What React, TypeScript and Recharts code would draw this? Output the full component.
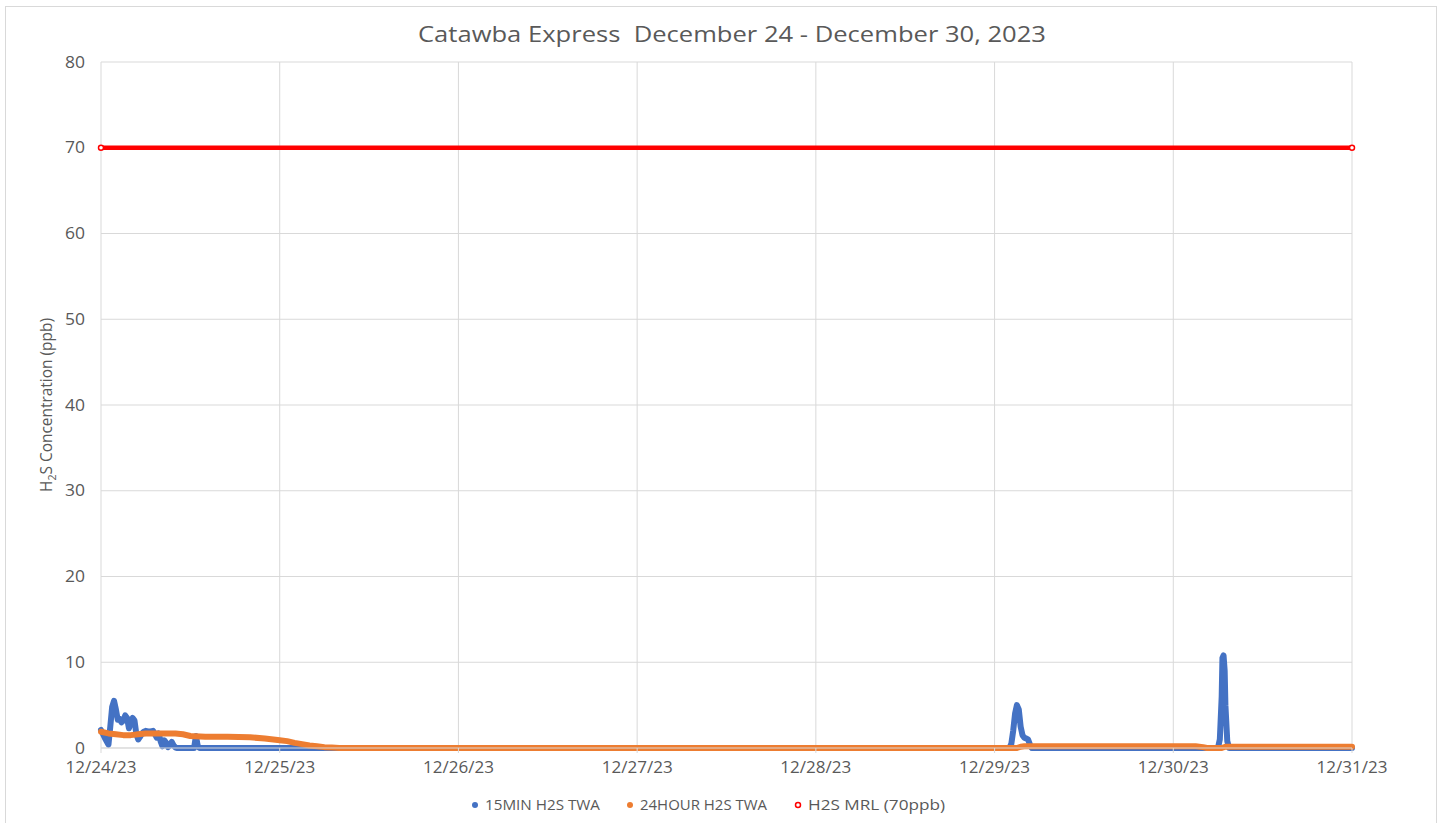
import React from 'react';
import { LineChart, Line, XAxis, YAxis, CartesianGrid } from 'recharts';

// ---- Data (x in hours since 12/24/23 00:00) ----
const dayTicks = [0, 24, 48, 72, 96, 120, 144, 168];
const dayLabels = ['12/24/23', '12/25/23', '12/26/23', '12/27/23', '12/28/23', '12/29/23', '12/30/23', '12/31/23'];
const yTicks = [0, 10, 20, 30, 40, 50, 60, 70, 80];

const min15Hours = [
  0, 0.5, 1.0, 1.25, 1.5, 1.75, 2.0, 2.25, 2.5, 2.75, 3.0, 3.25, 3.5, 3.75, 4.0, 4.25, 4.5, 4.75,
  5.0, 5.25, 5.5, 5.75, 6.0, 6.5, 7.0, 7.25, 7.5, 7.75, 8.0, 8.25, 8.5, 8.75, 9.0, 9.25, 9.5, 9.75,
  10.0, 10.25, 12.5, 12.75, 13.0, 13.25, 122.0, 122.25, 122.5, 122.75, 123.0, 123.25, 123.5, 123.75,
  124.0, 124.25, 124.5, 124.75, 125.0, 150.0, 150.25, 150.5, 150.6, 150.75, 150.9, 151.0, 151.25, 151.5, 168,
];
const min15Values = [
  2.1, 1.2, 0.4, 2.5, 4.8, 5.5, 4.5, 3.3, 3.4, 3.0, 3.2, 3.8, 3.5, 2.3, 3.0, 3.5, 3.2, 1.6,
  1.0, 1.3, 1.7, 1.9, 2.0, 1.9, 2.0, 1.6, 1.2, 1.7, 0.8, 0.2, 0.9, 0.6, 0.1, 0.3, 0.7, 0.3,
  0.05, 0, 0, 1.4, 0.2, 0, 0, 0.5, 2.0, 4.0, 5.0, 4.5, 2.5, 1.5,
  1.2, 1.1, 1.0, 0.4, 0, 0, 1.0, 6.0, 10.5, 10.8, 9.0, 5.0, 0.8, 0, 0,
];

const hour24Hours = [
  0, 1, 2, 3, 4, 5, 6, 8, 10, 11, 12, 14, 17, 20, 22, 24, 25, 26, 27, 28, 29, 30, 31, 32,
  123, 123.5, 124, 147, 148, 148.5, 150.5, 151, 168,
];
const hour24Values = [
  1.9, 1.7, 1.6, 1.5, 1.5, 1.6, 1.7, 1.7, 1.7, 1.6, 1.4, 1.3, 1.3, 1.25, 1.1, 0.9, 0.8, 0.6, 0.45, 0.3, 0.2, 0.1, 0.05, 0,
  0, 0.15, 0.2, 0.2, 0.1, 0, 0, 0.15, 0.15,
];

const mrlHours = [0, 168];
const mrlValues = [70, 70];

const seriesNames = ['15MIN H2S TWA', '24HOUR H2S TWA', 'H2S MRL (70ppb)'];
const seriesColors = ['#4472C4', '#ED7D31', '#FF0000'];

const toRows = (hs: number[], vs: number[]) => hs.map((t, i) => ({ t, v: vs[i] }));
const min15Data = toRows(min15Hours, min15Values);
const hour24Data = toRows(hour24Hours, hour24Values);
const mrlData = toRows(mrlHours, mrlValues);

const TEXT = '#595959';
const FONT = '"Open Sans", sans-serif';

const XTick = (props: any) => {
  const { x, y, payload } = props;
  const idx = dayTicks.indexOf(payload.value);
  return (
    <text x={x} y={y} dy="0.71em" textAnchor="middle" fill={TEXT} fontSize={15.5} fontFamily={FONT}
      textLength={71} lengthAdjust="spacingAndGlyphs">
      {dayLabels[idx]}
    </text>
  );
};

const YTick = (props: any) => {
  const { x, y, payload } = props;
  const s = String(payload.value);
  return (
    <text x={x} y={y} dy="0.355em" textAnchor="end" fill={TEXT} fontSize={15.5} fontFamily={FONT}
      textLength={10 * s.length} lengthAdjust="spacingAndGlyphs">
      {s}
    </text>
  );
};

const YLabel = (props: any) => {
  const vb = props.viewBox || { y: 62, height: 686 };
  const cy = vb.y + vb.height / 2;
  const x = 52;
  return (
    <text x={x} y={cy} transform={`rotate(-90 ${x} ${cy})`} textAnchor="middle" fill={TEXT}
      fontSize={16} fontFamily={FONT} textLength={174} lengthAdjust="spacingAndGlyphs">
      H<tspan fontSize={11} dy={4}>2</tspan><tspan dy={-4}>S Concentration (ppb)</tspan>
    </text>
  );
};

export default function App() {
  return (
    <div style={{ position: 'absolute', left: 0, top: 0, width: 1447, height: 823, overflow: 'hidden', background: '#fff' }}>
      <div style={{ position: 'absolute', left: 5, top: 6, width: 1432, height: 840, border: '1px solid #d9d9d9', boxSizing: 'border-box' }} />
      <div style={{ position: 'absolute', left: 0, top: 0 }}>
        <LineChart width={1447} height={823} margin={{ top: 62, right: 95, bottom: 45, left: 41 }}>
          <CartesianGrid stroke="#d9d9d9" strokeWidth={1} />
          <XAxis type="number" dataKey="t" domain={[0, 168]} ticks={dayTicks} interval={0}
            axisLine={{ stroke: '#d9d9d9' }} tickLine={{ stroke: '#d9d9d9' }} tickSize={5} tickMargin={9}
            height={30} tick={<XTick />} />
          <YAxis type="number" domain={[0, 80]} ticks={yTicks} interval={0} width={60}
            axisLine={false} tickLine={false} tickSize={6} tickMargin={10} tick={<YTick />}
            label={<YLabel />} />
          <Line data={min15Data} dataKey="v" type="linear" stroke={seriesColors[0]} strokeWidth={6}
            strokeLinejoin="round" strokeLinecap="round" dot={false} activeDot={false} isAnimationActive={false} />
          <Line data={hour24Data} dataKey="v" type="linear" stroke={seriesColors[1]} strokeWidth={6}
            strokeLinejoin="round" strokeLinecap="round" dot={false} activeDot={false} isAnimationActive={false} />
          <Line data={mrlData} dataKey="v" type="linear" stroke={seriesColors[2]} strokeWidth={4.5}
            dot={{ r: 2.5, fill: '#fff', stroke: seriesColors[2], strokeWidth: 1.5 }} activeDot={false}
            isAnimationActive={false} />
        </LineChart>
      </div>
      <svg width={1447} height={823} style={{ position: 'absolute', left: 0, top: 0, pointerEvents: 'none' }}>
        <text x={732} y={41.5} textAnchor="middle" fill={TEXT} fontSize={21} fontFamily={FONT}
          textLength={628} lengthAdjust="spacingAndGlyphs" style={{ whiteSpace: 'pre' }}>
          {'Catawba Express  December 24 - December 30, 2023'}
        </text>
        <circle cx={475} cy={805} r={3} fill={seriesColors[0]} />
        <text x={485} y={809.5} fill={TEXT} fontSize={14} fontFamily={FONT} textLength={115} lengthAdjust="spacingAndGlyphs">{seriesNames[0]}</text>
        <circle cx={630} cy={805} r={3} fill={seriesColors[1]} />
        <text x={640} y={809.5} fill={TEXT} fontSize={14} fontFamily={FONT} textLength={127} lengthAdjust="spacingAndGlyphs">{seriesNames[1]}</text>
        <circle cx={798} cy={805} r={2.5} fill="#fff" stroke={seriesColors[2]} strokeWidth={1.5} />
        <text x={808} y={809.5} fill={TEXT} fontSize={14} fontFamily={FONT} textLength={137} lengthAdjust="spacingAndGlyphs">{seriesNames[2]}</text>
      </svg>
    </div>
  );
}
